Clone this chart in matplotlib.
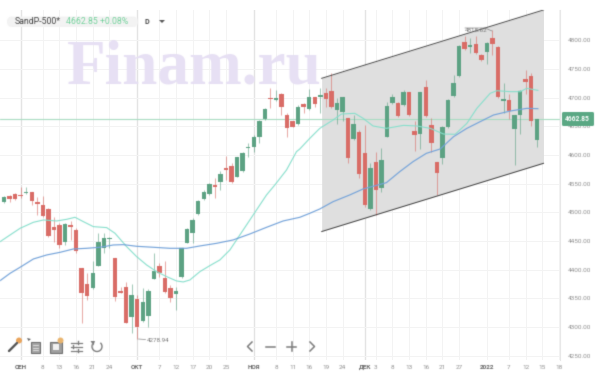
import numpy as np
import matplotlib
matplotlib.use("Agg")
import matplotlib.pyplot as plt
from matplotlib.patches import FancyBboxPatch, Rectangle, Circle, Polygon

plt.rcParams['font.family'] = ['Roboto', 'DejaVu Sans']

# top, bottom of body as (open, close); wicks as high, low
opens = [4517.4,4529,4531.3,4530.2,4533.6,4534.8,4518.5,4512.7,4505.7,4473.8,4477.8,4447.6,4477.2,4469.1,4403.4,4374.3,4367.3,4406.9,4438.3,4453.4,
         4419.7,4362.1,4370.2,4317.9,4348.7,4310.4,4319.6,4384.2,4406.3,4384.8,4367.3,4358,4386.5,4447,4463.3,4496.4,4523.2,4532.4,4547.5,4553.3,
         4577.2,4580.7,4561.5,4572.5,4612.1,4613.8,4631.3,4662.7,4700.2,4696.7,4706.3,4669.7,4658.7,4654,4688.9,4679.6,4700.5,4701.7,4707.5,4712.1,
         4678.4,4675.5,4663.9,4628.4,4640.6,4602.8,4505.7,4588.2,4542.3,4631.9,4691.2,4690,4687.1,4709.2,4641.8,4636.5,4717.9,4652.2,4587.1,4595.2,
         4649.3,4703.4,4737.7,4796.4,4787.7,4793,4774.4,4780.2,4804,4788.9,4694.7,4695.9,4644.7,4669.7,4732.5,4737.7,4626.1]
closes = [4527.2,4522.6,4523.8,4528.4,4536,4520.3,4513.9,4494.1,4458.6,4469.1,4442.9,4479.6,4474.3,4432.5,4358.6,4354.5,4394.7,4448.7,4454.6,4454.6,
          4352.2,4359.2,4306.9,4355.7,4300.5,4344.1,4363.3,4398.2,4393.5,4361.5,4351,4363.3,4437.1,4470.3,4487.1,4519.7,4536,4549.3,4544,4566.7,
          4573.7,4552.8,4596.4,4603.9,4613.8,4631.3,4659.7,4680.1,4697.6,4698.5,4684.2,4647,4649.3,4683.6,4683,4700.5,4688.9,4704.6,4697.6,4683,
          4690,4700.5,4595.2,4654,4566.8,4512.7,4577.2,4538.8,4591.2,4685.4,4700.5,4667.9,4710.4,4669.7,4635.4,4709.2,4668.5,4620.3,4567.9,4649.3,
          4695.9,4726.1,4790.6,4785.4,4791.8,4778.4,4765.6,4795.9,4793.5,4700.5,4697,4677.2,4669.7,4712.1,4726.7,4659.8,4662.85]
highs = [4528,4530,4533,4544,4544.7,4536,4527.2,4529,4506.9,4492.4,4480.7,4480.7,4484.8,4472,4403.4,4393.5,4415,4464.4,4463.3,4457.5,
         4419.7,4370.2,4379,4374.3,4355.7,4368.5,4366.2,4428.4,4411,4415,4373.2,4370.2,4437.1,4473.2,4490.6,4521.4,4538.9,4551,4559.8,4572.5,
         4598.1,4586,4597,4605.6,4620.8,4634.8,4661,4681.4,4716.8,4713.3,4707.5,4672.6,4659.7,4687.1,4690,4714.5,4701.7,4716.2,4716.2,4743.5,
         4698.8,4701.7,4663.9,4669.7,4643.5,4652.2,4586,4605.6,4612.1,4693,4706.3,4693,4713.3,4710.4,4659.8,4710.4,4730.7,4663.9,4588.3,4650.5,
         4697,4739.5,4791.8,4807.5,4803.4,4807.5,4776.1,4797.6,4818.62,4790,4725,4706.3,4669.7,4713.3,4748.2,4743.5,4663.3]
lows = [4516,4518.5,4521.4,4525.5,4531.3,4512.7,4495.3,4492.4,4457.5,4447.6,4437.1,4442.9,4451.7,4428.4,4306.3,4347,4366.2,4406.3,4429.6,4437.1,
        4345.8,4358.6,4306.9,4288.8,4278.94,4309.2,4300.5,4383,4387.7,4358.6,4342.9,4329.5,4385.9,4445.8,4445.8,4495.3,4521.4,4530,4524.9,4538.8,
        4556.3,4551,4561,4570.8,4596.4,4605.6,4621.3,4661,4681.9,4694.1,4669.7,4631.8,4648.2,4652.2,4672.6,4678.4,4683,4673.8,4684.2,4681.3,
        4654,4659.8,4585.4,4626.1,4559.2,4509.2,4504,4495.2,4535.3,4630.7,4688.9,4666.8,4685.4,4667.9,4607.5,4610.4,4666.8,4605.7,4530.1,4584.2,
        4646.4,4701.7,4736.6,4783.1,4778.4,4776.1,4764.5,4758.6,4774.4,4698.8,4672.6,4662.1,4582.5,4636.5,4706.3,4650.5,4614.4]

ma_fast_x = [-0.7,1.1,2.9,5.3,7.1,9.5,11.3,12.8,14.3,16.1,18.5,20,22.1,23.9,25.7,27.5,29.3,31.1,32.3,33.5,35.3,37.1,38.9,40.7,42.5,44.9,47.3,48.8,50.9,52.7,
             53.3,55.1,56.9,59.3,60.8,63.2,64.7,66.5,68.9,72,74.4,76.8,79.2,81.3,83.4,85.2,87.6,88.8,91.2,93,94.2,96.2]
ma_fast_y = [4448.7,4460.4,4472,4482.5,4486.5,4484.8,4487.7,4491.2,4483.6,4474.9,4473.2,4463.3,4440,4422.6,4408,4396.4,4387.7,4380.1,4378.4,4381.9,4396.4,4406.9,4416.8,4434.2,4460.4,4495.3,4530.2,4547.6,4573.7,4605.7,
             4610.4,4629,4646.4,4661,4671.4,4672.6,4663.9,4650.5,4646.4,4651.6,4650.5,4646.4,4636.5,4636,4655.1,4681.3,4707.5,4712.1,4710.4,4710.4,4716.2,4712.7]
ma_slow_x = [-0.7,1.1,2.9,5.3,7.7,10.1,12.5,14.9,17.3,19.7,21.5,23.9,26.9,29.9,32.9,35.3,38.3,41.3,44.3,47.3,50.3,53.3,55.1,56.9,59.3,62.3,64.7,
             68.9,71.3,73.7,76.1,78.6,81,83.4,85.8,88.2,91.2,94.2,96.2]
ma_slow_y = [4380.7,4393.5,4404,4418.5,4425.5,4430.1,4435.9,4437.1,4438.9,4442.9,4443.5,4440.6,4438.9,4437.1,4437.1,4441.2,4445.8,4451.7,4462.1,4473.7,4484.8,4491.2,4498.2,4505.7,4518.5,4530.2,4540.6,
             4551.6,4570.8,4588.3,4602.8,4610.4,4631.9,4646.4,4658.1,4669.7,4676.6,4681.3,4680.7]

channel_x = [57.24, 97.2]
channel_upper = [4733.7, 4852.9]
channel_lower = [4466.4, 4585.4]

last_price = 4662.85
low_label = "4278.94"
high_label = "4818.62"
y_ticks = [4250,4300,4350,4400,4450,4500,4550,4600,4650,4700,4750,4800]
x_ticks = [3,7,10,13,16,19,24,28,31,34,37,40,45,49,52,55,58,61,65,67,70,73,76,79,82,87,91,94,97,100]
x_labels = ["СЕН","8","13","16","21","24","ОКТ","7","12","17","20","25","НОЯ","8","11","16","19","24","ДЕК","3","8","13","16","21","27","2022","7","12","15","18"]
major = {"СЕН","ОКТ","НОЯ","ДЕК","2022"}

RED, GREEN = "#d96c66", "#5ca283"


def blur(sigma_px):
    r = int(3 * sigma_px) + 1
    k = np.exp(-0.5 * (np.arange(-r, r + 1) / sigma_px) ** 2)
    k /= k.sum()

    def f(im, dpi):
        a = np.pad(im, ((r, r), (r, r), (0, 0)))
        a = a.copy()
        a[..., :3] *= a[..., 3:]
        for ax_ in (0, 1):
            a = np.apply_along_axis(lambda m: np.convolve(m, k, mode="same"), ax_, a)
        alpha = np.clip(a[..., 3:], 1e-4, 1)
        a[..., :3] = np.clip(a[..., :3] / alpha, 0, 1)
        return a, -r, -r
    return f


fig = plt.figure(figsize=(6, 3.75), dpi=100, facecolor="white")
W, H = 600, 375
top_px, bot_px = 10, 360
ax = fig.add_axes([0, 1 - bot_px / H, 560 / W, (bot_px - top_px) / H])
ax.set_xlim(-0.72, 100.18)
ax.set_ylim(4242.2, 4852.9)
ax.set_facecolor("white")
for s in ("left", "top", "bottom"):
    ax.spines[s].set_visible(False)
ax.spines["right"].set_color("#e8e8e8")
ax.spines["right"].set_linewidth(0.8)

ax.yaxis.tick_right()
ax.set_yticks(y_ticks)
ax.set_yticklabels([f"{v:.2f}" for v in y_ticks])
ax.set_xticks(x_ticks)
ax.set_xticklabels(x_labels)
ax.tick_params(axis="y", length=0, pad=5.5, labelsize=4.6, labelcolor="#8f8f8f")
ax.tick_params(axis="x", length=0, pad=6.6, labelsize=4.6, labelcolor="#8f8f8f")
ax.grid(True, color="#f3f3f3", linewidth=0.7)
ax.set_axisbelow(True)
for tick, lab in zip(ax.get_xticklabels(), x_labels):
    tick.set_verticalalignment("baseline")
    if lab in major:
        tick.set_color("#666666")
        tick.set_fontweight("bold")
for gl, lab in zip(ax.get_xgridlines(), x_labels):
    if lab in ("СЕН", "ОКТ", "НОЯ", "ДЕК"):
        gl.set_color("#e4e4e4")
        gl.set_linewidth(1.0)

mark = fig.text(67 / W, 1 - 83 / H, "Finam.ru", family="Liberation Serif", fontweight="bold",
                fontsize=45.5, color="#e7e0f4", va="baseline", ha="left", zorder=0.5)

ax.patch.set_alpha(0)
ax.fill_between(channel_x, channel_lower, channel_upper, color="#dfdfdf", linewidth=0, zorder=1.5)
edge1, = ax.plot(channel_x, channel_upper, color="#444444", lw=0.7, zorder=5)
edge2, = ax.plot(channel_x, channel_lower, color="#444444", lw=0.7, zorder=5)

idx = np.arange(len(opens))
o, c, h, l = map(np.array, (opens, closes, highs, lows))
colors = [GREEN if cc >= oo else RED for oo, cc in zip(o, c)]
wicks = ax.vlines(idx, l, h, colors=colors, linewidth=0.6, alpha=0.7, zorder=3)
bot = np.minimum(o, c)
ht = np.maximum(np.abs(c - o), 1.2)
bars = ax.bar(idx, ht, bottom=bot, width=0.8, color=colors, linewidth=0, zorder=3.5)

fast, = ax.plot(ma_fast_x, ma_fast_y, color="#86dfcc", lw=0.8, zorder=4)
slow, = ax.plot(ma_slow_x, ma_slow_y, color="#74a3da", lw=0.85, zorder=4)
hline = ax.axhline(last_price, color="#a9dcc2", lw=0.8, zorder=2.5)

soft = blur(0.55)
for a in (wicks, fast, slow, edge1, edge2, hline, mark):
    a.set_agg_filter(soft)
for b in bars:
    b.set_agg_filter(soft)
for t in ax.get_xticklabels() + ax.get_yticklabels():
    t.set_agg_filter(soft)

# interface chrome, in pixel coordinates
ui = fig.add_axes([0, 0, 1, 1], facecolor="none")
ui.set_xlim(0, W)
ui.set_ylim(H, 0)
ui.axis("off")
ui.set_zorder(5)

ui.add_patch(FancyBboxPatch((7, 16.5), 131, 10.5, boxstyle="round,pad=0,rounding_size=5", fc="#f3f3f3", ec="none"))
texts = [
    ui.text(14.5, 21, "SandP-500*", fontsize=6.3, color="#444444", va="center"),
    ui.text(65.5, 21, f"{last_price:.2f} +0.08%", fontsize=6.3, color="#74d29c", va="center"),
    ui.text(144.5, 21.5, "D", fontsize=5.2, color="#444444", va="center", fontweight="bold"),
    ui.text(147, 340, low_label, fontsize=4.5, color="#777777", va="center"),
    ui.text(465, 30, high_label, fontsize=4.5, color="#777777", va="center"),
    ui.text(577.5, 119, f"{last_price:.2f}", fontsize=4.8, color="white", va="center", ha="center", fontweight="bold", zorder=7),
]
ui.add_patch(Polygon([(159, 20), (165, 20), (162, 23)], fc="#555555", ec="none"))
ui.add_patch(FancyBboxPatch((562, 112), 32, 14, boxstyle="round,pad=0,rounding_size=1.5", fc="#5aa884", ec="none", zorder=6))
ui.plot([138.5, 145.5], [339, 339.5], color="#888888", lw=0.5)
ui.plot([465, 485, 492], [28, 28, 31], color="#888888", lw=0.5)

grey = "#7d7d7d"
# wrench
ui.plot([9, 17], [351, 343], color="#555555", lw=1.7, solid_capstyle="round")
ui.add_patch(Circle((19, 340.5), 3, fc="#eaa45a", ec="none"))
# document
ui.add_patch(Rectangle((31, 342), 9, 10.5, fc="#a5a5a5", ec="#6f6f6f", lw=0.8))
for yy in (345, 347.5, 350):
    ui.plot([33, 38], [yy, yy], color="#eeeeee", lw=0.5)
ui.add_patch(Polygon([(27, 338), (31, 339), (28.5, 341)], fc="#666666", ec="none"))
# stacked box
ui.add_patch(Rectangle((49.5, 342), 12, 10.5, fc="#a0a0a0", ec="#707070", lw=0.8))
ui.add_patch(Rectangle((53, 344), 6, 5.5, fc="#f2f2f2", ec="none"))
ui.add_patch(Circle((60.5, 340.5), 3, fc="#eab56e", ec="none"))
# sliders
for yy, xx in ((342.5, 78), (346.5, 73), (350.5, 78)):
    ui.plot([71, 81.5], [yy, yy], color=grey, lw=0.9)
    ui.plot([xx, xx], [yy - 1.8, yy + 1.8], color=grey, lw=1.0)
# undo arc
th = np.linspace(-0.7, 3.6, 40)
ui.plot(97 + 5 * np.cos(th), 346.5 + 5 * np.sin(th), color=grey, lw=1.0)
ui.add_patch(Polygon([(90.5, 341), (95, 341), (93.5, 345.5)], fc=grey, ec="none"))
# navigation
ui.plot([252, 247.5, 252], [342, 346.5, 351], color=grey, lw=1.1)
ui.plot([266, 275], [346.5, 346.5], color=grey, lw=1.1)
ui.plot([287, 296], [346.5, 346.5], color=grey, lw=1.1)
ui.plot([291.5, 291.5], [342, 351], color=grey, lw=1.1)
ui.plot([310, 314.5, 310], [342, 346.5, 351], color=grey, lw=1.1)

for a in list(ui.lines) + list(ui.patches) + texts:
    a.set_agg_filter(soft)

fig.savefig("out.png", dpi=100, facecolor="white")
